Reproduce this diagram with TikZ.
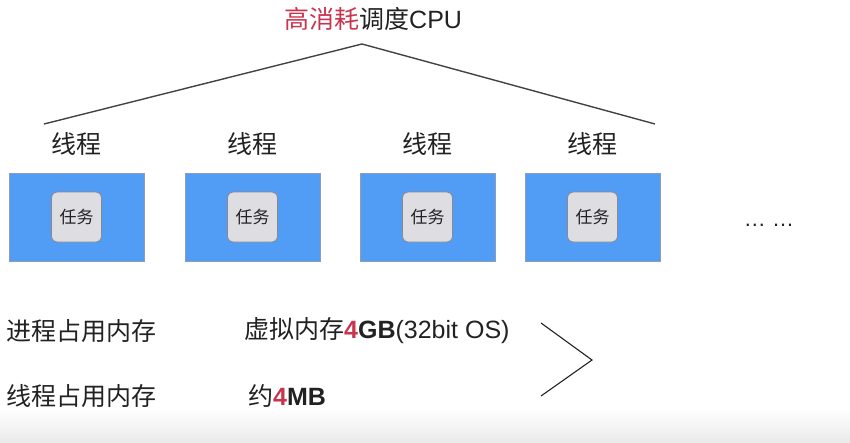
\documentclass[tikz,border=0pt]{standalone}
\usepackage{fontspec}
\setmainfont{Liberation Sans}
\newfontfamily\cjk{Noto Sans CJK SC}
\definecolor{hot}{HTML}{C9344E}
\definecolor{threadblue}{HTML}{519CF5}
\definecolor{threadedge}{HTML}{8E9DB3}
\definecolor{taskfill}{HTML}{DDDDE2}
\definecolor{taskedge}{HTML}{8A8A8E}
\definecolor{ink}{HTML}{222222}
\begin{document}
\begin{tikzpicture}[x=1pt,y=-1pt,
  bigtext/.style={font=\fontsize{25}{29}\selectfont, inner sep=0pt, text=ink},
  cjktext/.style={bigtext, font=\cjk\fontsize{25}{29}\selectfont},
  threadbox/.style={draw=threadedge, line width=0.8pt, fill=threadblue,
    minimum width=135pt, minimum height=88pt, inner sep=0pt},
  taskbox/.style={draw=taskedge, line width=0.8pt, fill=taskfill, rounded corners=6pt,
    minimum width=50pt, minimum height=50pt, inner sep=0pt,
    font=\cjk\fontsize{17}{19}\selectfont, text=ink},
  branch/.style={draw=ink!85, line width=1.4pt},
  chev/.style={draw=ink, line width=1.1pt}]
  \useasboundingbox (0,0) rectangle (850,442);
  \fill[white] (0,0) rectangle (850,442);
  % soft grey band along the bottom
  \shade[top color=white, bottom color=black!8] (0,408) rectangle (850,442);

  % heading
  \node[bigtext, anchor=west] (title) at (284,19)
    {\cjk\textcolor{hot}{高消耗}调度\fontspec{Liberation Sans}CPU};

  % CPU scheduling branches
  \coordinate (apex) at (362,44);
  \coordinate (leftend) at (44,124);
  \coordinate (rightend) at (655,124);
  \draw[branch] (leftend) -- (apex) -- (rightend);

  % threads with their tasks
  \foreach \i/\cx in {1/76.5, 2/252.5, 3/427.5, 4/592.5} {
    \node[cjktext] (lbl\i) at (\cx,144) {线程};
    \node[threadbox] (thr\i) at (\cx,217) {};
    \node[taskbox] (task\i) at (thr\i.center) {任务};
  }
  \node[bigtext, anchor=base, font=\fontsize{22}{26}\selectfont] (more) at (769,226) {\ldots\ \ldots};

  % memory comparison
  \node[cjktext, anchor=west] (procmem) at (6,331) {进程占用内存};
  \node[bigtext, anchor=west] (procval) at (244,331)
    {{\cjk 虚拟内存}\textbf{\textcolor{hot}{4}GB}(32bit OS)};
  \node[cjktext, anchor=west] (thrmem) at (6,396) {线程占用内存};
  \node[bigtext, anchor=west] (thrval) at (248,396)
    {{\cjk 约}\textbf{\textcolor{hot}{4}MB}};

  \coordinate (chevtop) at (541,323);
  \coordinate (chevtip) at (592,360);
  \coordinate (chevbot) at (541,396);
  \draw[chev] (chevtop) -- (chevtip) -- (chevbot);
\end{tikzpicture}
\end{document}
